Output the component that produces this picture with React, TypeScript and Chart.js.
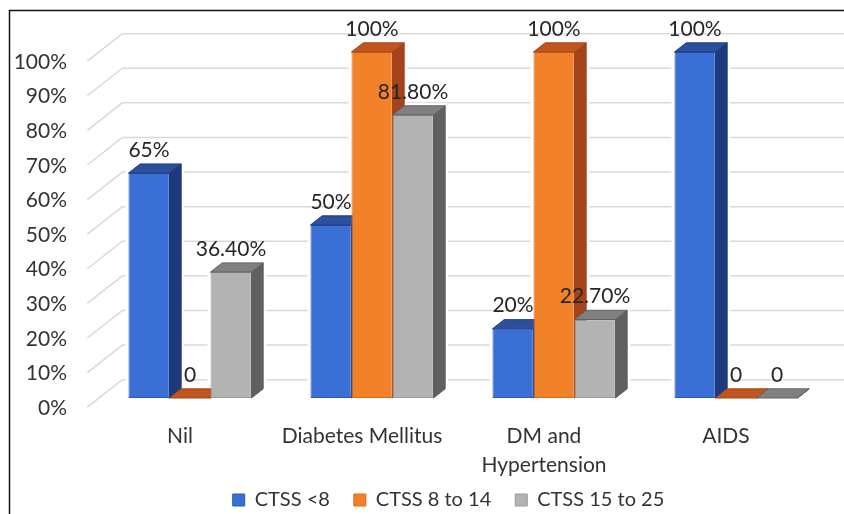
import React, { useEffect, useRef } from "react";
import { Chart, registerables } from "chart.js";

Chart.register(...registerables);

// ---- data ----
const categories: (string | string[])[] = ["Nil", "Diabetes Mellitus", ["DM and", "Hypertension"], "AIDS"];
const seriesNames = ["CTSS <8", "CTSS 8 to 14", "CTSS 15 to 25"];
const ctssUnder8 = [65, 50, 20, 100];
const ctss8to14 = [0, 100, 100, 0];
const ctss15to25 = [36.4, 81.8, 22.7, 0];
const labelsUnder8 = ["65%", "50%", "20%", "100%"];
const labels8to14 = ["0", "100%", "100%", "0"];
const labels15to25 = ["36.40%", "81.80%", "22.70%", "0"];
const yMin = 0;
const yMax = 100;
const yStep = 10;

// ---- styles ----
const frontColors = ["#3A70D6", "#F2822A", "#B3B3B3"];
const borderColors = ["#2A58B8", "#D96A18", "#9A9A9A"];
const sideColors = ["#1F3A7C", "#A3441B", "#606060"];
const topColors = ["#2C4F9E", "#C0561E", "#808080"];
const FONT = "Lato, 'Open Sans', sans-serif";
const DX = 35;
const DY = 27.5;

const seriesValues = [ctssUnder8, ctss8to14, ctss15to25];
const seriesLabels = [labelsUnder8, labels8to14, labels15to25];

function barBox(bar: any) {
  const p = bar.getProps(["x", "y", "base", "width"], true);
  const L = p.x - p.width / 2;
  const R = p.x + p.width / 2;
  return { L, R, T: Math.min(p.y, p.base), B: Math.max(p.y, p.base), x: p.x };
}

const depthPlugin = {
  id: "depth3d",
  afterLayout(chart: any) {
    const lg = chart.legend;
    if (lg) {
      lg.left = 70;
      lg.right = 827;
      lg.width = 757;
      lg.top = 466;
      lg.bottom = 520;
    }
  },
  beforeDatasetsDraw(chart: any) {
    const { ctx, chartArea, scales } = chart;
    const y = scales.y;
    const dx = DX / 3;
    const dy = DY / 3;
    ctx.save();
    ctx.strokeStyle = "#d9d9d9";
    ctx.lineWidth = 1.5;
    y.ticks.forEach((t: any) => {
      const py = y.getPixelForValue(t.value);
      ctx.beginPath();
      ctx.moveTo(chartArea.left - dx, py + dy);
      ctx.lineTo(chartArea.left + 2 * dx, py - 2 * dy);
      ctx.lineTo(chart.width, py - 2 * dy);
      ctx.stroke();
    });
    // white halo around bars
    ctx.fillStyle = "#ffffff";
    ctx.strokeStyle = "#ffffff";
    ctx.lineWidth = 6;
    ctx.lineJoin = "round";
    chart.data.datasets.forEach((_: any, i: number) => {
      chart.getDatasetMeta(i).data.forEach((bar: any) => {
        const { L, R, T, B } = barBox(bar);
        ctx.beginPath();
        ctx.moveTo(L, B);
        ctx.lineTo(L, T);
        ctx.lineTo(L + dx, T - dy);
        ctx.lineTo(R + dx, T - dy);
        ctx.lineTo(R + dx, B - dy);
        ctx.lineTo(R, B);
        ctx.closePath();
        ctx.fill();
        ctx.stroke();
      });
    });
    ctx.restore();
  },
  beforeDatasetDraw() {
    // bars are drawn below in left-to-right order so faces overlap correctly
    return false;
  },
  afterDatasetsDraw(chart: any) {
    const { ctx } = chart;
    const dx = DX / 3;
    const dy = DY / 3;
    chart.data.datasets.forEach((_: any, i: number) => {
      chart.getDatasetMeta(i).data.forEach((bar: any) => {
        const { L, R, T, B } = barBox(bar);
        bar.draw(ctx, chart.chartArea);
        ctx.save();
        ctx.lineWidth = 1;
        // side face
        ctx.beginPath();
        ctx.moveTo(R, T);
        ctx.lineTo(R + dx, T - dy);
        ctx.lineTo(R + dx, B - dy);
        ctx.lineTo(R, B);
        ctx.closePath();
        ctx.fillStyle = sideColors[i];
        ctx.fill();
        ctx.strokeStyle = sideColors[i];
        ctx.stroke();
        // top face
        ctx.beginPath();
        ctx.moveTo(L, T);
        ctx.lineTo(R, T);
        ctx.lineTo(R + dx, T - dy);
        ctx.lineTo(L + dx, T - dy);
        ctx.closePath();
        ctx.fillStyle = topColors[i];
        ctx.fill();
        ctx.strokeStyle = sideColors[i];
        ctx.stroke();
        ctx.restore();
      });
    });
    ctx.save();
    ctx.font = `21px ${FONT}`;
    ctx.fillStyle = "#262626";
    ctx.textAlign = "center";
    ctx.textBaseline = "middle";
    chart.data.datasets.forEach((_: any, i: number) => {
      chart.getDatasetMeta(i).data.forEach((bar: any, j: number) => {
        const { x, T } = barBox(bar);
        ctx.fillText(seriesLabels[i][j], x, T - dy - 14);
      });
    });
    ctx.restore();
  },
  afterDraw(chart: any) {
    const { ctx } = chart;
    ctx.save();
    ctx.strokeStyle = "#111111";
    ctx.lineWidth = 1.5;
    ctx.beginPath();
    ctx.moveTo(9.5, chart.height);
    ctx.lineTo(9.5, 10.5);
    ctx.lineTo(chart.width, 10.5);
    ctx.stroke();
    ctx.restore();
  },
};

export default function App() {
  const ref = useRef<HTMLCanvasElement | null>(null);

  useEffect(() => {
    if (!ref.current) return;
    const chart = new Chart(ref.current, {
      type: "bar",
      data: {
        labels: categories as any,
        datasets: seriesNames.map((name, i) => ({
          label: name,
          data: seriesValues[i],
          backgroundColor: frontColors[i],
          borderColor: borderColors[i],
          borderWidth: 1,
          borderSkipped: false,
          categoryPercentage: 0.676,
          barPercentage: 1,
        })),
      },
      options: {
        animation: false,
        responsive: false,
        devicePixelRatio: 1,
        layout: { padding: { left: 0, right: 17, top: 52, bottom: -23 } },
        plugins: {
          tooltip: { enabled: false },
          legend: {
            position: "bottom",
            labels: {
              font: { family: FONT, size: 20 },
              color: "#333333",
              boxWidth: 12,
              boxHeight: 12,
              padding: 24,
            },
          },
        },
        scales: {
          x: {
            grid: { display: false, drawTicks: false },
            border: { display: false },
            ticks: {
              font: { family: FONT, size: 21, lineHeight: 1.38 },
              color: "#333333",
              padding: 24,
              labelOffset: -10,
              maxRotation: 0,
              autoSkip: false,
            },
            afterFit: (s: any) => {
              s.height = 85;
            },
          },
          y: {
            min: yMin,
            max: yMax,
            grid: { display: false, drawTicks: false },
            border: { display: false },
            ticks: {
              stepSize: yStep,
              font: { family: FONT, size: 21 },
              color: "#333333",
              padding: 32,
              labelOffset: 10,
              callback: (v: any) => `${v}%`,
            },
            afterFit: (s: any) => {
              s.width = 99;
            },
          },
        },
      },
      plugins: [depthPlugin],
    });
    return () => chart.destroy();
  }, []);

  return (
    <div style={{ position: "fixed", left: 0, top: 0, width: 844, height: 514, background: "#fff" }}>
      <canvas ref={ref} width={844} height={514} />
    </div>
  );
}
